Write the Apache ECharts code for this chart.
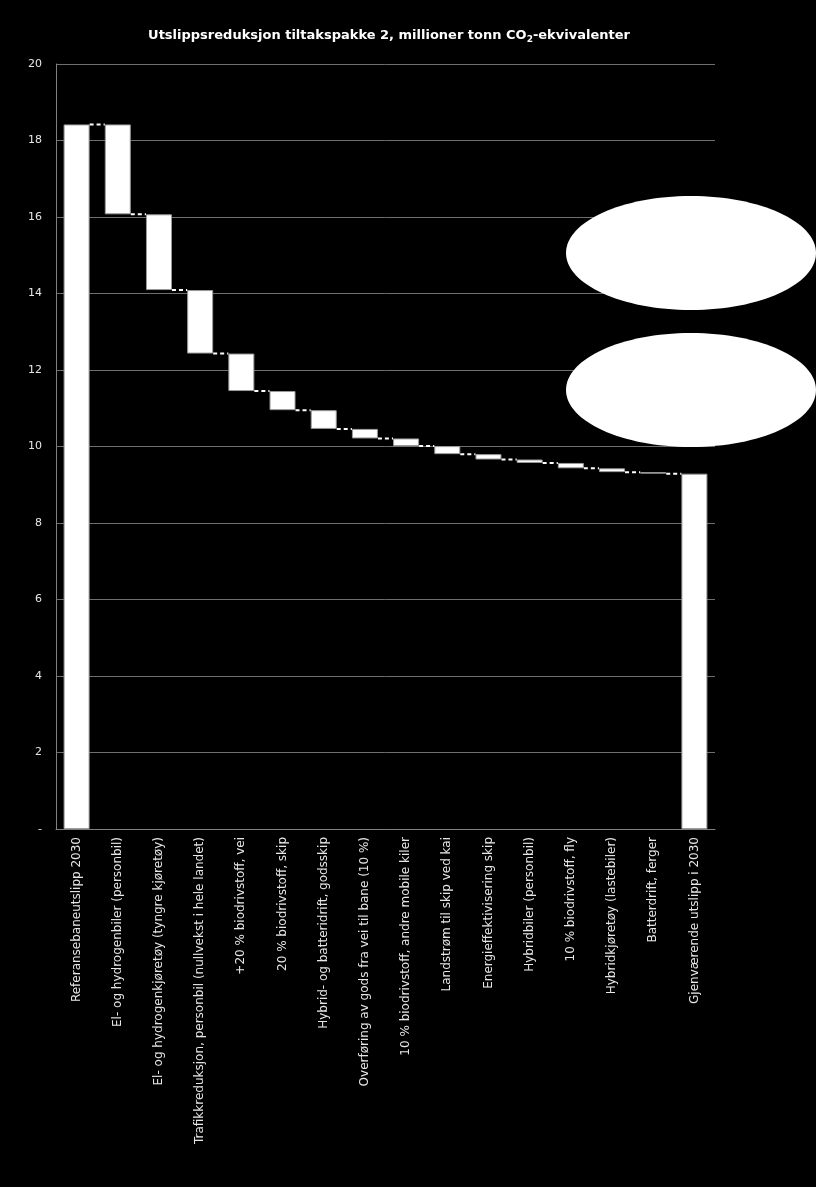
<!DOCTYPE html>
<html>
<head>
<meta charset="utf-8">
<style>
html,body{margin:0;padding:0;background:#000;}
#chart{width:816px;height:1187px;}
</style>
<script src="https://cdn.jsdelivr.net/npm/echarts@6/dist/echarts.min.js"></script>
</head>
<body>
<div id="chart"></div>
<script>
var categories = [
  'Referansebaneutslipp 2030',
  'El- og hydrogenbiler (personbil)',
  'El- og hydrogenkjøretøy (tyngre kjøretøy)',
  'Trafikkreduksjon, personbil (nullvekst i hele landet)',
  '+20 % biodrivstoff, vei',
  '20 % biodrivstoff, skip',
  'Hybrid- og batteridrift, godsskip',
  'Overføring av gods fra vei til bane (10 %)',
  '10 % biodrivstoff, andre mobile kiler',
  'Landstrøm til skip ved kai',
  'Energieffektivisering skip',
  'Hybridbiler (personbil)',
  '10 % biodrivstoff, fly',
  'Hybridkjøretøy (lastebiler)',
  'Batterdrift, ferger',
  'Gjenværende utslipp i 2030'
];
var referenceValue = 18.42;
var reductions = [2.35, 1.98, 1.66, 0.98, 0.50, 0.49, 0.25, 0.20, 0.21, 0.14, 0.09, 0.14, 0.10, 0.04];
var remainingValue = 9.29;
var yTicks = ['-', '2', '4', '6', '8', '10', '12', '14', '16', '18', '20'];

// build waterfall
var baseData = [0];
var barData = [referenceValue];
var levels = [referenceValue];
var level = referenceValue;
reductions.forEach(function (r) {
  level = level - r;
  baseData.push(level);
  barData.push(r);
  levels.push(level);
});
baseData.push(0);
barData.push(remainingValue);
var connectorData = levels.map(function (v, i) { return [i, v]; });

var chart = echarts.init(document.getElementById('chart'));
var fontFam = '"DejaVu Sans", sans-serif';
chart.setOption({
  backgroundColor: '#000',
  animation: false,
  title: {
    text: '{a|Utslippsreduksjon tiltakspakke 2, millioner tonn CO}{s|2}{a|-ekvivalenter}',
    left: 384,
    textAlign: 'center',
    top: 23,
    textStyle: {
      rich: {
        a: { color: '#fff', fontSize: 13, fontWeight: 'bold', fontFamily: fontFam },
        s: { color: '#fff', fontSize: 9, fontWeight: 'bold', fontFamily: fontFam, padding: [7, 0, 0, 0] }
      }
    }
  },
  grid: { left: 56, right: 101, top: 64, bottom: 358 },
  xAxis: {
    type: 'category',
    data: categories,
    axisLine: { lineStyle: { color: '#808080', width: 1 } },
    axisTick: { show: false },
    axisLabel: {
      rotate: 90,
      interval: 0,
      color: '#e6e6e6',
      fontSize: 12,
      fontFamily: fontFam,
      margin: 8
    }
  },
  yAxis: {
    type: 'value',
    min: 0,
    max: 20,
    interval: 2,
    axisLine: { show: true, lineStyle: { color: '#808080', width: 1 } },
    axisTick: { show: false },
    splitLine: { lineStyle: { color: '#6e6e6e', width: 1 } },
    axisLabel: {
      color: '#e6e6e6',
      fontSize: 11,
      fontFamily: fontFam,
      margin: 14,
      formatter: function (v) { return yTicks[Math.round(v / 2)]; }
    }
  },
  series: [
    {
      type: 'bar',
      stack: 'w',
      data: baseData,
      barWidth: 26,
      itemStyle: { color: 'transparent' },
      silent: true
    },
    {
      type: 'bar',
      stack: 'w',
      data: barData,
      barWidth: 26,
      itemStyle: { color: '#fff', borderColor: '#9a9a9a', borderWidth: 1 }
    },
    {
      type: 'custom',
      data: connectorData,
      z: 5,
      renderItem: function (params, api) {
        var i = api.value(0);
        var v = api.value(1);
        var p1 = api.coord([i, v]);
        var p2 = api.coord([i + 1, v]);
        return {
          type: 'line',
          shape: { x1: p1[0] + 13, y1: p1[1], x2: p2[0] - 13, y2: p2[1] },
          style: { stroke: '#fff', lineWidth: 2, lineDash: [4, 3] }
        };
      }
    }
  ],
  graphic: [
    { type: 'ellipse', shape: { cx: 691, cy: 253, rx: 125, ry: 57 }, style: { fill: '#fff' }, z: 100 },
    { type: 'ellipse', shape: { cx: 691, cy: 390, rx: 125, ry: 57 }, style: { fill: '#fff' }, z: 100 }
  ]
});
</script>
</body>
</html>
